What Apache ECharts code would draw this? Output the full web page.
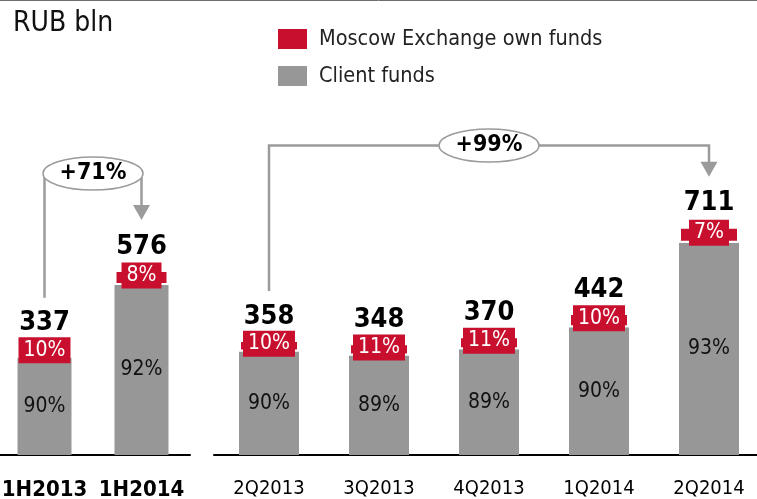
<!DOCTYPE html>
<html>
<head>
<meta charset="utf-8">
<script src="https://cdn.jsdelivr.net/npm/echarts@6/dist/echarts.min.js"></script>
<style>
  html, body { margin: 0; padding: 0; background: #fff; }
  #chart { width: 757px; height: 499px; }
</style>
</head>
<body>
<div id="chart"></div>
<script>
// Half-year comparison (left panel)
const halfYears = ['1H2013', '1H2014'];
const halfTotals = [337, 576];
const halfOwnPct = [10, 8];
const halfClientPct = [90, 92];

// Quarterly comparison (right panel)
const quarters = ['2Q2013', '3Q2013', '4Q2013', '1Q2014', '2Q2014'];
const quarterTotals = [358, 348, 370, 442, 711];
const quarterOwnPct = [10, 11, 11, 10, 7];
const quarterClientPct = [90, 89, 89, 90, 93];

const OWN_NAME = 'Moscow Exchange own funds';
const CLIENT_NAME = 'Client funds';

const FONT = '"DejaVu Sans Condensed", "DejaVu Sans", sans-serif';
const RED = '#C8102E';
const GREY = '#979797';
const LINE = '#9b9b9b';

function share(totals, pct) {
  return totals.map((t, i) => +(t * pct[i] / 100).toFixed(1));
}

function panelSeries(axis, totals, clientPct, ownPct, barWidth) {
  return [
    {
      name: CLIENT_NAME, type: 'bar', stack: 'p' + axis,
      xAxisIndex: axis, yAxisIndex: axis, barWidth: barWidth,
      data: share(totals, clientPct),
      itemStyle: { color: GREY },
      label: {
        show: true, position: 'inside', fontFamily: FONT, fontSize: 21,
        color: '#111', formatter: p => clientPct[p.dataIndex] + '%'
      },
      silent: true
    },
    {
      name: OWN_NAME, type: 'bar', stack: 'p' + axis,
      xAxisIndex: axis, yAxisIndex: axis, barWidth: barWidth,
      data: share(totals, ownPct),
      itemStyle: { color: RED, borderColor: '#fff', borderWidth: 2 },
      label: {
        show: true, position: 'inside', offset: [0, -2], fontFamily: FONT, fontSize: 21,
        lineHeight: 20, color: '#fff', backgroundColor: RED, padding: [3, 5, 3, 5],
        formatter: p => ownPct[p.dataIndex] + '%'
      },
      z: 3,
      silent: true
    },
    {
      name: 'total' + axis, type: 'bar',
      xAxisIndex: axis, yAxisIndex: axis, barWidth: barWidth, barGap: '-100%',
      data: totals,
      itemStyle: { color: 'rgba(0,0,0,0)' },
      label: {
        show: true, position: 'top', distance: 10, fontFamily: FONT, fontSize: 27,
        fontWeight: 'bold', color: '#000'
      },
      z: 1,
      silent: true
    }
  ];
}

const chart = echarts.init(document.getElementById('chart'), null, { renderer: 'canvas' });

const axisLineStyle = { show: true, lineStyle: { color: '#000', width: 2 } };

chart.setOption({
  animation: false,
  title: {
    text: 'RUB bln', left: 8, top: 5,
    textStyle: { fontFamily: FONT, fontSize: 28, fontWeight: 'normal', color: '#111' }
  },
  legend: {
    data: [OWN_NAME, CLIENT_NAME],
    orient: 'vertical', left: 273, top: 23,
    itemWidth: 29, itemHeight: 20, itemGap: 15,
    icon: 'rect',
    itemStyle: { borderWidth: 0 },
    selectedMode: false,
    textStyle: { fontFamily: FONT, fontSize: 21.5, color: '#222', padding: [0, 0, 0, 7] }
  },
  grid: [
    { left: -4, width: 194, top: 134, bottom: 44, outerBoundsMode: 'none' },
    { left: 214, width: 550, top: 134, bottom: 44, outerBoundsMode: 'none' }
  ],
  xAxis: [
    {
      type: 'category', gridIndex: 0, data: halfYears,
      axisLine: axisLineStyle, axisTick: { show: false },
      axisLabel: {
        interval: 0, hideOverlap: false, margin: 24,
        fontFamily: FONT, fontSize: 22, fontWeight: 'bold', color: '#000'
      }
    },
    {
      type: 'category', gridIndex: 1, data: quarters,
      axisLine: axisLineStyle, axisTick: { show: false },
      axisLabel: { interval: 0, margin: 24, fontFamily: FONT, fontSize: 20, color: '#000' }
    }
  ],
  yAxis: [
    { type: 'value', gridIndex: 0, min: 0, max: 1000, show: false, splitLine: { show: false } },
    { type: 'value', gridIndex: 1, min: 0, max: 1000, show: false, splitLine: { show: false } }
  ],
  series: [
    ...panelSeries(0, halfTotals, halfClientPct, halfOwnPct, 54),
    ...panelSeries(1, quarterTotals, quarterClientPct, quarterOwnPct, 60)
  ]
});

// Growth brackets joining the first and last bar of each panel
function bracket(axis, cats, totals, levelY, key) {
  const first = 0, last = cats.length - 1;
  const xa = chart.convertToPixel({ xAxisIndex: axis }, cats[first]);
  const xb = chart.convertToPixel({ xAxisIndex: axis }, cats[last]);
  const ya = chart.convertToPixel({ yAxisIndex: axis }, totals[first]);
  const yb = chart.convertToPixel({ yAxisIndex: axis }, totals[last]);
  const tipY = yb - 50;
  const headH = 15, headW = 8.5;
  const growth = Math.round((totals[last] / totals[first] - 1) * 100);
  const cx = (xa + xb) / 2;
  return [
    {
      type: 'polyline', id: key + 'line', silent: true, z: 10,
      shape: { points: [[xa, ya - 49], [xa, levelY], [xb, levelY], [xb, tipY - headH + 1]] },
      style: { stroke: LINE, lineWidth: 2.5, fill: null }
    },
    {
      type: 'polygon', id: key + 'head', silent: true, z: 10,
      shape: { points: [[xb - headW, tipY - headH], [xb + headW, tipY - headH], [xb, tipY]] },
      style: { fill: LINE }
    },
    {
      type: 'ellipse', id: key + 'oval', silent: true, z: 11,
      shape: { cx: cx, cy: levelY, rx: 50, ry: 16.5 },
      style: { fill: '#fff', stroke: LINE, lineWidth: 1.5 }
    },
    {
      type: 'text', id: key + 'text', silent: true, z: 12,
      x: cx, y: levelY,
      style: {
        text: '+' + growth + '%', fontFamily: FONT, fontSize: 23, fontWeight: 'bold',
        fill: '#000', align: 'center', verticalAlign: 'middle'
      }
    }
  ];
}

chart.setOption({
  graphic: [
    {
      type: 'line', id: 'topRule', silent: true,
      shape: { x1: 0, y1: 0.5, x2: 757, y2: 0.5 },
      style: { stroke: '#6e6e6e', lineWidth: 1 }
    },
    ...bracket(0, halfYears, halfTotals, 173.5, 'h'),
    ...bracket(1, quarters, quarterTotals, 145.5, 'q')
  ]
});
</script>
</body>
</html>
